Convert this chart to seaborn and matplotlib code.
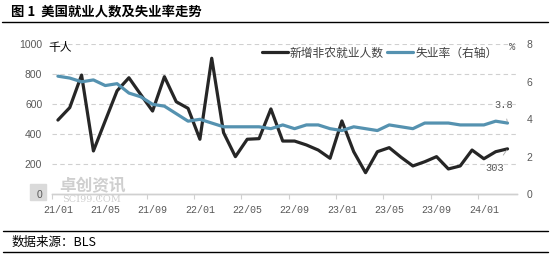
import numpy as np
import pandas as pd
import matplotlib
matplotlib.use("Agg")
import matplotlib.pyplot as plt
import seaborn as sns
from matplotlib.lines import Line2D

sns.set_theme(style="white")
plt.rcParams['font.family'] = ['Noto Sans CJK SC', 'DejaVu Sans']

# ---- data ----
months = pd.date_range("2021-01-01", "2024-03-01", freq="MS")
month_labels = [d.strftime("%y/%m") for d in months]
nonfarm = [495, 578, 795, 289, 490, 690, 777, 665, 555, 784,
           617, 573, 367, 907, 411, 251, 367, 371, 569, 355,
           355, 329, 295, 240, 489, 284, 144, 284, 311, 247,
           189, 217, 251, 169, 189, 295, 237, 284, 303]
unemp = [6.3, 6.2, 6.0, 6.1, 5.8, 5.9, 5.4, 5.2, 4.8, 4.7,
         4.3, 3.9, 4.0, 3.8, 3.6, 3.6, 3.6, 3.6, 3.5, 3.7,
         3.5, 3.7, 3.7, 3.5, 3.4, 3.6, 3.5, 3.4, 3.7, 3.6,
         3.5, 3.8, 3.8, 3.8, 3.7, 3.7, 3.7, 3.9, 3.8]
left_ticks = [0, 200, 400, 600, 800, 1000]
right_ticks = [0, 2, 4, 6, 8]
series_names = ["新增非农就业人数", "失业率（右轴）"]

df = pd.DataFrame({"idx": np.arange(len(months)), "label": month_labels,
                   "nonfarm": nonfarm, "unemp": unemp})

W, H = 550, 256
fig = plt.figure(figsize=(W / 100, H / 100), dpi=100)

def fx(px):
    return px / W

def fy(py):
    return 1 - py / H

# watermark (drawn first, beneath everything)
fig.patches.append(plt.Rectangle((fx(30), fy(200)), 16 / W, 16 / H, transform=fig.transFigure,
                                 color="#DADADA", zorder=-5))
fig.text(fx(92), fy(186), "卓创资讯", fontsize=12, color="#CFCFCF", ha="center", va="center",
         weight="bold", zorder=-5)
fig.text(fx(92), fy(199), "SCI99.COM", fontsize=7, color="#CFCFCF", ha="center", va="center",
         family="DejaVu Serif", zorder=-5)

ax_l, ax_r, ax_t, ax_b = 52, 517, 44.3, 194.3
ax = fig.add_axes([fx(ax_l), fy(ax_b), (ax_r - ax_l) / W, (ax_b - ax_t) / H])
ax2 = ax.twinx()
ax.patch.set_alpha(0)
ax2.patch.set_alpha(0)

black = "#262626"
blue = "#5592B0"
grey_txt = "#595959"

sns.lineplot(data=df, x="idx", y="nonfarm", ax=ax, color=black, lw=2.3, zorder=3)
sns.lineplot(data=df, x="idx", y="unemp", ax=ax2, color=blue, lw=2.3, zorder=3)

ax.set_xlim(-0.45, 38.8)
ax.set_ylim(0, 1000)
ax2.set_ylim(0, 8)
ax.set_yticks(left_ticks)
ax2.set_yticks(right_ticks)
ax.set_xlabel("")
ax.set_ylabel("")
ax2.set_ylabel("")

# grid
for v in left_ticks[1:]:
    ax.axhline(v, color="#D0D0D0", lw=0.8, ls=(0, (4, 3)), zorder=1)

for a in (ax, ax2):
    for s in ("top", "left", "right"):
        a.spines[s].set_visible(False)
    a.spines["bottom"].set_color("#D0D0D0")
    a.spines["bottom"].set_linewidth(1.0)

# x ticks
major = list(range(0, len(months), 4))
ax.set_xticks(major)
ax.set_xticklabels([month_labels[i] for i in major], family="Liberation Mono",
                   fontsize=7.2, color=grey_txt)
ax.set_xticks([i - 0.5 for i in major], minor=True)
ax.tick_params(axis="x", which="major", length=0, pad=8)
ax.tick_params(axis="x", which="minor", length=3.5, width=0.8, color="#D0D0D0",
               direction="out", bottom=True)

ax.tick_params(axis="y", length=0, pad=7, labelsize=7.5, labelcolor=grey_txt)
ax2.tick_params(axis="y", length=0, pad=7, labelsize=7.5, labelcolor=grey_txt)
ax2.set_yticklabels([str(v) for v in right_ticks])
for t in ax.get_yticklabels() + ax2.get_yticklabels():
    t.set_family("Liberation Sans")

# units
fig.text(fx(48), fy(48), "千人", fontsize=8.5, color="black", va="center", ha="left")
fig.text(fx(512), fy(47), "%", fontsize=7.5, color=grey_txt, va="center", ha="center",
         family="Liberation Mono")

# legend
handles = [Line2D([0], [0], color=black, lw=2.3), Line2D([0], [0], color=blue, lw=2.3)]
leg = fig.legend(handles, series_names, loc="center left",
                 bbox_to_anchor=(fx(262), fy(53)), ncol=2, frameon=False,
                 fontsize=8.5, handlelength=2.2, handletextpad=0.15,
                 columnspacing=0.3, borderaxespad=0, borderpad=0)
for t in leg.get_texts():
    t.set_color("#404040")

# annotations of last values
last = len(months) - 1
ax2.annotate("3.8", xy=(last, unemp[-1]), xytext=(last - 0.3, 4.75),
             fontsize=7.5, color=grey_txt, ha="center", va="center", family="Liberation Mono",
             arrowprops=dict(arrowstyle="-", color="#A6A6A6", lw=0.6,
                             shrinkA=4, shrinkB=1))
ax.annotate("303", xy=(last, nonfarm[-1]), xytext=(last - 1.1, 175),
            fontsize=7.5, color=grey_txt, ha="center", va="center", family="Liberation Mono",
            arrowprops=dict(arrowstyle="-", color="#A6A6A6", lw=0.6,
                            shrinkA=4, shrinkB=1))

# title and frame lines
fig.text(fx(11), fy(12), "图 1  美国就业人数及失业率走势", fontsize=9.6, weight="bold",
         color="black", va="center", ha="left")
fig.add_artist(Line2D([fx(2), fx(548)], [fy(22), fy(22)], color="black", lw=1.0,
                      transform=fig.transFigure))
fig.add_artist(Line2D([fx(3), fx(548)], [fy(231), fy(231)], color="black", lw=1.0,
                      transform=fig.transFigure))
fig.add_artist(Line2D([fx(3), fx(548)], [fy(252), fy(252)], color="black", lw=1.0,
                      transform=fig.transFigure))
fig.text(fx(12), fy(242), "数据来源：BLS", fontsize=9, color="black", va="center", ha="left")

fig.savefig("out.png", dpi=100)
